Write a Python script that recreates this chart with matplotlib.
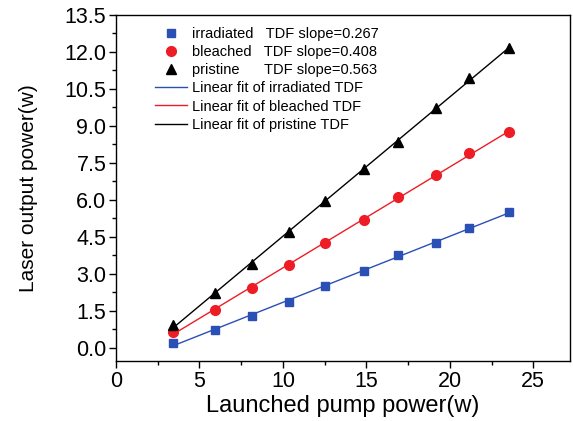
import numpy as np
import matplotlib
matplotlib.use("Agg")
import matplotlib.pyplot as plt
from matplotlib.ticker import MultipleLocator, FormatStrFormatter

pump = [3.42, 5.94, 8.16, 10.34, 12.54, 14.84, 16.9, 19.2, 21.16, 23.56]
irradiated = [0.21, 0.72, 1.31, 1.88, 2.50, 3.11, 3.77, 4.27, 4.88, 5.50]
bleached = [0.66, 1.54, 2.44, 3.35, 4.27, 5.18, 6.11, 7.01, 7.89, 8.77]
pristine = [0.93, 2.21, 3.40, 4.71, 5.97, 7.24, 8.35, 9.72, 10.96, 12.17]

names = ["irradiated", "bleached", "pristine"]
slopes = ["0.267", "0.408", "0.563"]
pads = ["   ", "   ", "      "]

plt.rcParams['font.family'] = ['Liberation Sans', 'DejaVu Sans']

fig = plt.figure(figsize=(5.73, 4.21), dpi=100)
ax = fig.add_axes([0.2024, 0.1425, 0.7924, 0.8219])

colors = ["#2a4fb5", "#ee1c25", "#000000"]
markers = ["s", "o", "^"]
msizes = [5.5, 7, 6.5]
series = [irradiated, bleached, pristine]
x = np.array(pump)

pts = []
for ys, c, m, ms, n, s, p in zip(series, colors, markers, msizes, names, slopes, pads):
    h, = ax.plot(x, ys, linestyle='none', marker=m, color=c, markersize=ms,
                 label=f"{n}{p}TDF slope={s}")
    pts.append(h)
lines = []
for ys, c, n in zip(series, colors, names):
    k, b = np.polyfit(x, ys, 1)
    xx = np.array([x.min(), x.max()])
    l, = ax.plot(xx, k * xx + b, color=c, linewidth=1.0, label=f"Linear fit of {n} TDF")
    lines.append(l)

ax.set_xlim(0, 27.2)
ax.set_ylim(-0.53, 13.5)
ax.xaxis.set_major_locator(MultipleLocator(5))
ax.xaxis.set_minor_locator(MultipleLocator(2.5))
ax.yaxis.set_major_locator(MultipleLocator(1.5))
ax.yaxis.set_minor_locator(MultipleLocator(0.75))
ax.yaxis.set_major_formatter(FormatStrFormatter('%.1f'))
ax.tick_params(which='major', direction='out', length=5, width=1, labelsize=15.5, pad=2)
ax.tick_params(which='minor', direction='out', length=3, width=1)
ax.tick_params(top=False, right=False)
for sp in ax.spines.values():
    sp.set_linewidth(1.0)

ax.set_xlabel("Launched pump power(w)", fontsize=17, labelpad=2)
ax.set_ylabel("Laser output power(w)", fontsize=15, labelpad=19)

leg = ax.legend(handles=pts + lines, loc='upper left', bbox_to_anchor=(0.06, 1.0),
                frameon=False, fontsize=10.5, handlelength=2.2, handletextpad=0.35,
                labelspacing=0.29, borderaxespad=0.4)

fig.savefig("out.png", dpi=100)
